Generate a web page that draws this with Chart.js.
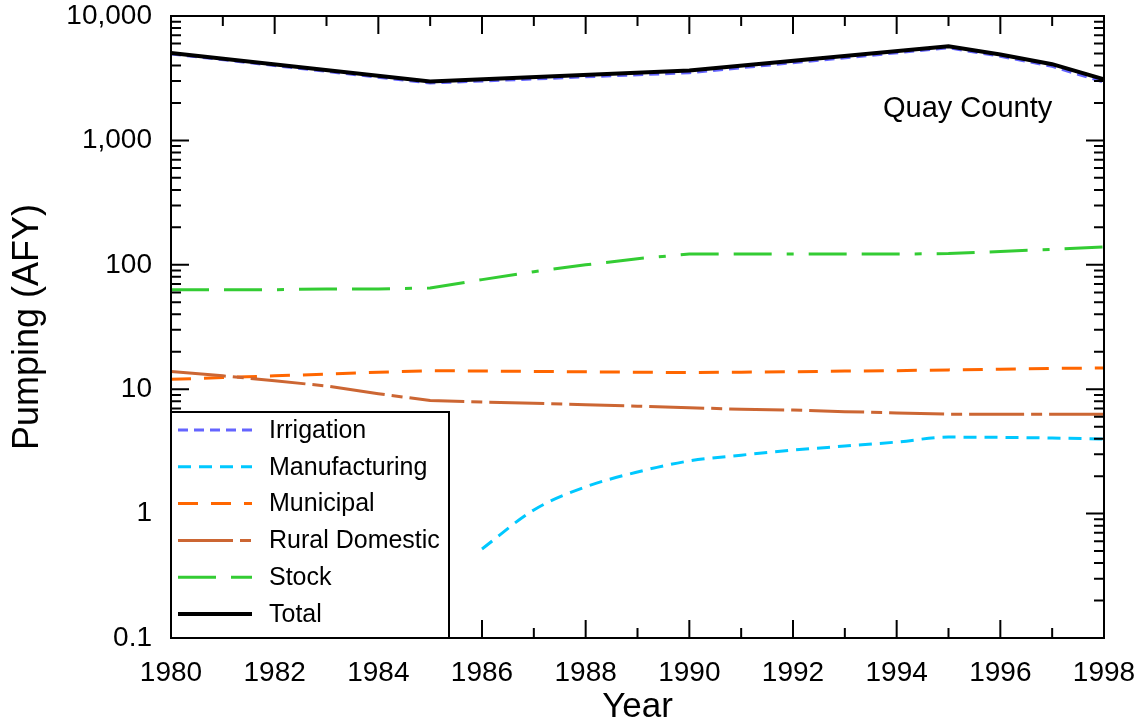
<!DOCTYPE html>
<html>
<head>
<meta charset="utf-8">
<script src="https://cdn.jsdelivr.net/npm/chart.js@4.4.1/dist/chart.umd.min.js"></script>
<style>
    body { margin: 0; background: #ffffff; }
    #box { width: 1141px; height: 725px; position: relative; }
</style>
</head>
<body>
<div id="box"><canvas id="grafico"></canvas></div>
<script>
// anos e valores (AFY)
const anos = [1980, 1981, 1982, 1983, 1984, 1985, 1986, 1987, 1988, 1989,
              1990, 1991, 1992, 1993, 1994, 1995, 1996, 1997, 1998];
const anosTotal = [1980, 1985, 1990, 1995, 1996, 1997, 1998];

const irrigacao = [4960, 2890, 3500, 5550, 4750, 3940, 2935];
const total = [5050, 2980, 3650, 5700, 4900, 4100, 3100];
const manufatura = [null, null, null, null, null, null, 0.52, 1.07, 1.64, 2.16,
                    2.65, 2.95, 3.24, 3.49, 3.76, 4.12, 4.1, 4.05, 3.97];
const municipal = [12.0, 12.4, 12.8, 13.2, 13.7, 14.1, 14.0, 13.9, 13.8, 13.7,
                   13.6, 13.7, 13.8, 14.0, 14.1, 14.3, 14.5, 14.7, 14.8];
const ruralDomestico = [13.9, 12.8, 11.7, 10.6, 9.2, 8.1, 7.9, 7.7, 7.5, 7.3,
                        7.1, 6.9, 6.8, 6.6, 6.45, 6.3, 6.3, 6.3, 6.3];
const rebanho = [63, 63, 63, 64, 64, 65, 76, 88, 100, 112,
                 122, 122, 122, 122, 122, 123, 128, 133, 139];

const ticksY = [0.1, 1, 10, 100, 1000, 10000];
const ticksX = [1980, 1982, 1984, 1986, 1988, 1990, 1992, 1994, 1996, 1998];

const fonte = "'Liberation Sans', Arial, Helvetica, sans-serif";

function pontos(xs, ys) {
    return xs.map((x, i) => ({ x: x, y: ys[i] }));
}

const series = [
    { label: "Irrigation", x: anosTotal, y: irrigacao, cor: "#6464ff", dash: [10, 6], largura: 3 },
    { label: "Manufacturing", x: anos, y: manufatura, cor: "#00c8ff", dash: [13, 8], largura: 3 },
    { label: "Municipal", x: anos, y: municipal, cor: "#ff6600", dash: [20, 13], largura: 3 },
    { label: "Rural Domestic", x: anos, y: ruralDomestico, cor: "#cc6633", dash: [55, 7, 11, 7], largura: 3 },
    { label: "Stock", x: anos, y: rebanho, cor: "#33cc33", dash: [38, 15, 38, 15, 7, 15], largura: 3 },
    { label: "Total", x: anosTotal, y: total, cor: "#000000", dash: [], largura: 4 }
];

// marcas para dentro, moldura, legenda e rotulo
const extras = {
    id: "extras",
    afterDraw(chart) {
        const ctx = chart.ctx;
        const a = chart.chartArea;
        const sx = chart.scales.x;
        const sy = chart.scales.y;
        ctx.save();
        ctx.strokeStyle = "#000";
        ctx.lineWidth = 2;
        ctx.setLineDash([]);

        ctx.beginPath();
        for (let ano = 1980; ano <= 1998; ano++) {
            const px = sx.getPixelForValue(ano);
            const len = ano % 2 === 0 ? 18 : 10;
            ctx.moveTo(px, a.bottom); ctx.lineTo(px, a.bottom - len);
            ctx.moveTo(px, a.top); ctx.lineTo(px, a.top + len);
        }
        ticksY.forEach((dec, k) => {
            const py = sy.getPixelForValue(dec);
            ctx.moveTo(a.left, py); ctx.lineTo(a.left + 18, py);
            ctx.moveTo(a.right, py); ctx.lineTo(a.right - 18, py);
            if (k < ticksY.length - 1) {
                for (let m = 2; m <= 9; m++) {
                    const pm = sy.getPixelForValue(dec * m);
                    ctx.moveTo(a.left, pm); ctx.lineTo(a.left + 10, pm);
                    ctx.moveTo(a.right, pm); ctx.lineTo(a.right - 10, pm);
                }
            }
        });
        ctx.stroke();

        ctx.strokeRect(a.left, a.top, a.right - a.left, a.bottom - a.top);

        // legenda
        const lx = a.left, lw = 278, lh = 226;
        const ly = a.bottom - lh;
        ctx.fillStyle = "#fff";
        ctx.fillRect(lx, ly, lw, lh);
        ctx.strokeRect(lx, ly, lw, lh);
        ctx.font = "25px " + fonte;
        ctx.textBaseline = "middle";
        ctx.textAlign = "left";
        series.forEach((s, i) => {
            const yy = ly + 18 + i * 36.8;
            ctx.beginPath();
            ctx.strokeStyle = s.cor;
            ctx.lineWidth = s.largura;
            ctx.setLineDash(s.dash);
            ctx.moveTo(lx + 7, yy);
            ctx.lineTo(lx + 81, yy);
            ctx.stroke();
            ctx.setLineDash([]);
            ctx.fillStyle = "#000";
            ctx.fillText(s.label, lx + 98, yy + 1);
        });

        ctx.font = "29px " + fonte;
        ctx.textAlign = "left";
        ctx.textBaseline = "alphabetic";
        ctx.fillStyle = "#000";
        ctx.fillText("Quay County", 883, 117);
        ctx.restore();
    }
};

window.onload = () => {
    const grafico = document.getElementById("grafico");

    new Chart(grafico, {
        type: "line",
        data: {
            datasets: series.map((s, i) => ({
                label: s.label,
                data: pontos(s.x, s.y),
                borderColor: s.cor,
                backgroundColor: s.cor,
                borderWidth: s.largura,
                borderDash: s.dash,
                pointRadius: 0,
                fill: false,
                spanGaps: false,
                cubicInterpolationMode: s.label === "Manufacturing" ? "monotone" : "default",
                order: s.label === "Total" ? 0 : 6 - i
            }))
        },
        options: {
            responsive: true,
            maintainAspectRatio: false,
            animation: false,
            layout: {
                padding: { top: 0, right: 37, left: 0, bottom: 0 }
            },
            plugins: {
                legend: { display: false },
                tooltip: { enabled: false }
            },
            scales: {
                x: {
                    type: "linear",
                    min: 1980,
                    max: 1998,
                    afterBuildTicks(scale) {
                        scale.ticks = ticksX.map(v => ({ value: v }));
                    },
                    afterFit(scale) {
                        scale.height = 87;
                        scale.paddingLeft = 0;
                        scale.paddingRight = 0;
                    },
                    grid: { display: false, drawTicks: false },
                    border: { display: false },
                    ticks: {
                        color: "#000",
                        padding: 18,
                        maxRotation: 0,
                        font: { size: 28, family: fonte },
                        callback: v => String(v)
                    },
                    title: {
                        display: true,
                        text: "Year",
                        color: "#000",
                        font: { size: 35, family: fonte, lineHeight: 1 },
                        padding: { top: 0, bottom: 0 }
                    }
                },
                y: {
                    type: "logarithmic",
                    min: 0.1,
                    max: 10000,
                    afterBuildTicks(scale) {
                        scale.ticks = ticksY.map(v => ({ value: v }));
                    },
                    afterFit(scale) {
                        scale.width = 171;
                        scale.paddingTop = 16;
                    },
                    grid: { display: false, drawTicks: false },
                    border: { display: false },
                    ticks: {
                        color: "#000",
                        padding: 19,
                        font: { size: 28, family: fonte },
                        callback: v => v.toLocaleString("en-US")
                    },
                    title: {
                        display: true,
                        text: "Pumping (AFY)",
                        color: "#000",
                        font: { size: 36, family: fonte, lineHeight: 1 },
                        padding: { top: 10, bottom: 0 }
                    }
                }
            }
        },
        plugins: [extras]
    });
};
</script>
</body>
</html>
